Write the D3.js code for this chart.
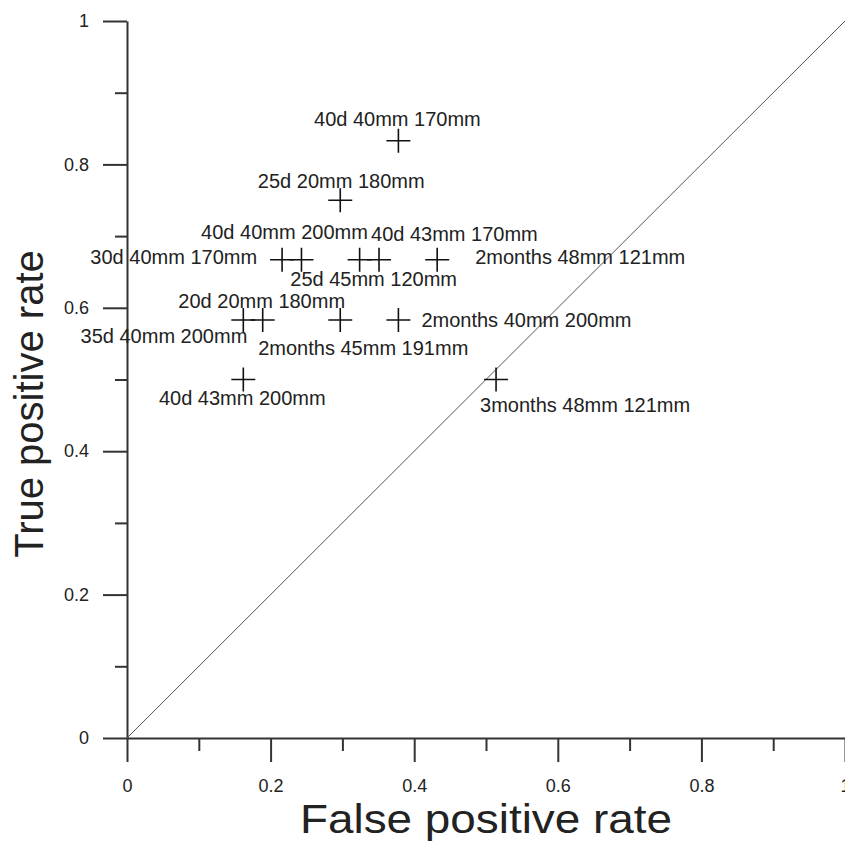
<!DOCTYPE html>
<html>
<head>
<meta charset="utf-8">
<script src="https://cdn.jsdelivr.net/npm/d3@7"></script>
<style>
  body { margin: 0; background: #fff; }
  text { font-family: "Liberation Sans", Arial, sans-serif; fill: #222; }
</style>
</head>
<body>
<div id="chart"></div>
<script>
// ROC points (false positive rate, true positive rate) and their settings
const fpr = [0.378, 0.297, 0.216, 0.243, 0.324, 0.351, 0.432, 0.189, 0.162, 0.297, 0.378, 0.162, 0.514];
const tpr = [0.833, 0.750, 0.667, 0.667, 0.667, 0.667, 0.667, 0.583, 0.583, 0.583, 0.583, 0.500, 0.500];
const names = [
    "40d 40mm 170mm", "25d 20mm 180mm", "30d 40mm 170mm", "40d 40mm 200mm",
    "25d 45mm 120mm", "40d 43mm 170mm", "2months 48mm 121mm", "20d 20mm 180mm",
    "35d 40mm 200mm", "2months 45mm 191mm", "2months 40mm 200mm",
    "40d 43mm 200mm", "3months 48mm 121mm"
];
const majorTicks = [0, 0.2, 0.4, 0.6, 0.8, 1];
const minorTicks = [0.1, 0.3, 0.5, 0.7, 0.9];

// where each label sits relative to its cross: [dx, dy, anchor]
const labelPlace = [
    [-1, -15, "middle"], [1, -12, "middle"], [-25, 4, "end"], [-17, -21, "middle"],
    [14, 26, "middle"], [-8, -19, "start"], [38, 4, "start"], [-1, -12, "middle"],
    [4, 23, "end"], [23, 35, "middle"], [23, 7, "start"],
    [-1, 25, "middle"], [-16, 32, "start"]
];

const width = 845, height = 848;
const svg = d3.select("#chart").append("svg")
    .attr("width", width)
    .attr("height", height);

const x = d3.scaleLinear().domain([0, 1]).range([127, 845]);
const y = d3.scaleLinear().domain([0, 1]).range([738, 21]);

// minor ticks first, then major axes on top
svg.append("g")
    .attr("transform", "translate(0,738)")
    .call(d3.axisBottom(x).tickValues(minorTicks).tickSize(13).tickSizeOuter(0).tickFormat(""))
    .call(g => g.select(".domain").remove());
svg.append("g")
    .attr("transform", "translate(127,0)")
    .call(d3.axisLeft(y).tickValues(minorTicks).tickSize(12).tickSizeOuter(0).tickFormat(""))
    .call(g => g.select(".domain").remove());

const xAxis = svg.append("g")
    .attr("transform", "translate(0,738)")
    .call(d3.axisBottom(x).tickValues(majorTicks).tickSize(24).tickSizeOuter(0).tickPadding(17)
        .tickFormat(d => d3.format("")(d)));
const yAxis = svg.append("g")
    .attr("transform", "translate(127,0)")
    .call(d3.axisLeft(y).tickValues(majorTicks).tickSize(24).tickSizeOuter(0).tickPadding(14)
        .tickFormat(d => d3.format("")(d)));

svg.selectAll(".tick line, .domain")
    .attr("stroke", "#333")
    .attr("stroke-width", 2);
svg.selectAll(".tick text")
    .style("font-family", "\"Liberation Sans\", Arial, sans-serif")
    .style("font-size", "18px")
    .attr("fill", "#222");

// chance line
svg.append("line")
    .attr("x1", x(0)).attr("y1", y(0))
    .attr("x2", x(1)).attr("y2", y(1))
    .attr("stroke", "#555")
    .attr("stroke-width", 1);

// crosses
const pts = svg.append("g").selectAll("g")
    .data(fpr.map((f, i) => ({f: f, t: tpr[i], name: names[i], place: labelPlace[i]})))
    .enter().append("g")
    .attr("transform", d => `translate(${x(d.f)},${y(d.t)})`);

pts.append("path")
    .attr("d", "M-12,0H12M0,-12V12")
    .attr("stroke", "#111")
    .attr("stroke-width", 1.6);

pts.append("text")
    .attr("x", d => d.place[0])
    .attr("y", d => d.place[1])
    .attr("text-anchor", d => d.place[2])
    .style("font-size", "20px")
    .text(d => d.name);

// axis titles
svg.append("text")
    .attr("x", 300)
    .attr("y", 833)
    .attr("textLength", 372)
    .attr("lengthAdjust", "spacingAndGlyphs")
    .style("font-size", "40px")
    .text("False positive rate");

svg.append("text")
    .attr("transform", "translate(43,404) rotate(-90)")
    .attr("text-anchor", "middle")
    .style("font-size", "40px")
    .text("True positive rate");
</script>
</body>
</html>
